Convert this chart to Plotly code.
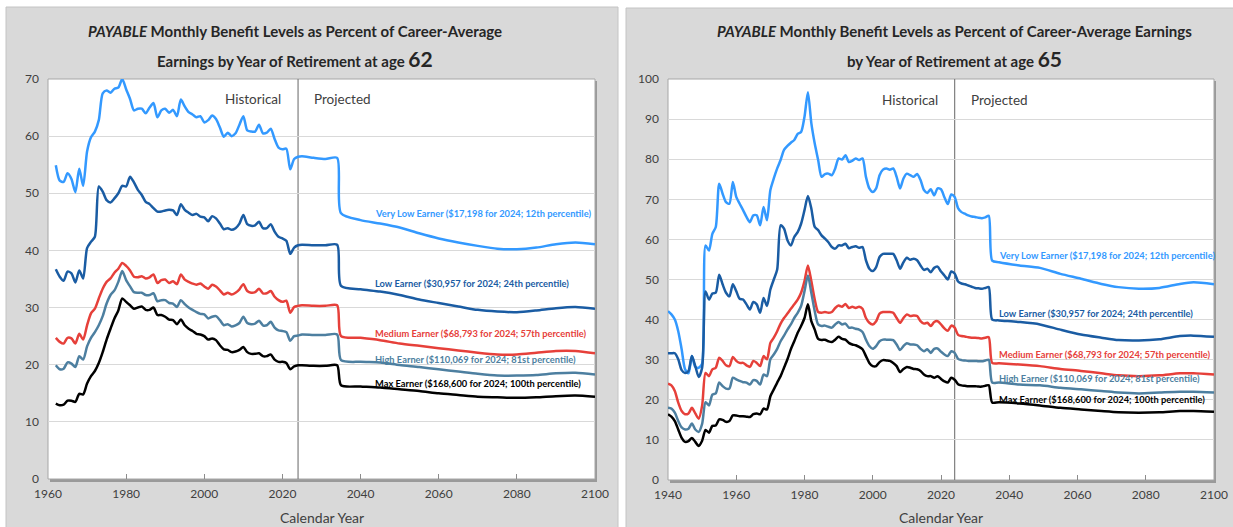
import plotly.graph_objects as go

W, H = 1233, 527

# ---------------- Age 62 data ----------------
years62 = list(range(1962, 2025)) + [2025, 2028, 2031, 2034, 2035, 2040, 2045, 2050, 2055,
                                     2060, 2065, 2070, 2075, 2080, 2085, 2090, 2095, 2100]

very_low_62 = [54.9, 52.2, 52.0, 53.5, 52.5, 50.2, 54.3, 51.3, 57.3, 59.8,
               60.8, 62.8, 67.5, 68.0, 67.6, 68.3, 68.5, 70.0, 68.2, 66.5,
               64.5, 64.8, 64.8, 64.0, 65.0, 65.8, 63.3, 64.5, 64.8, 64.1,
               64.6, 63.5, 66.4, 65.2, 64.2, 63.8, 63.3, 63.5, 62.4, 62.8,
               63.6, 63.0, 61.5, 59.9, 60.6, 60.0, 60.5, 62.0, 63.5, 61.0,
               60.8, 60.8, 62.0, 60.5, 60.6, 61.3, 59.5, 58.0, 57.7, 57.8,
               54.2, 56.0, 56.4,
               56.5, 56.2, 56.0, 56.2, 46.5, 45.3, 44.7, 44.0, 43.0,
               42.1, 41.4, 40.8, 40.3, 40.2, 40.5, 41.1, 41.4, 41.1]
low_62 = [36.7, 35.4, 34.7, 36.3, 36.0, 34.4, 36.5, 35.1, 40.4, 41.5,
          42.4, 51.2, 50.3, 48.8, 48.4, 49.1, 50.0, 51.3, 51.2, 52.9,
          51.9, 50.6, 49.7, 48.5, 48.1, 47.4, 46.8, 46.8, 47.0, 47.1,
          47.0, 46.2, 48.1, 47.1, 46.6, 46.2, 46.4, 45.9, 45.8, 45.1,
          46.0, 45.6, 44.7, 43.7, 43.9, 43.6, 43.9, 44.7, 46.2, 44.6,
          44.3, 44.4, 45.0, 43.9, 43.9, 44.6, 43.3, 42.4, 42.1, 41.7,
          39.4, 40.5, 40.9,
          41.0, 40.9, 40.9, 41.0, 33.8, 33.2, 32.8, 32.2, 31.4,
          30.8, 30.2, 29.6, 29.3, 29.2, 29.5, 29.9, 30.1, 29.8]
medium_62 = [24.7, 24.0, 23.7, 24.7, 24.6, 23.7, 25.4, 24.4, 26.9, 29.0,
             29.8, 31.6, 33.3, 34.5, 35.1, 36.1, 36.8, 37.8, 37.3, 36.5,
             35.4, 35.3, 35.5, 35.1, 35.3, 35.8, 34.3, 34.8, 34.9, 34.3,
             34.6, 34.1, 35.8, 34.9, 34.5, 34.2, 34.0, 34.2, 33.7, 33.3,
             34.0, 33.7, 33.0, 32.3, 32.6, 32.3, 32.6, 33.2, 34.1, 32.9,
             32.6, 32.7, 33.3, 32.5, 32.5, 32.9, 31.9, 31.3, 31.0, 31.2,
             29.1, 30.1, 30.3,
             30.4, 30.3, 30.3, 30.4, 25.0, 24.7, 24.3, 23.7, 23.3,
             22.9, 22.5, 22.1, 21.8, 21.8, 22.1, 22.4, 22.4, 22.0]
high_62 = [19.9, 19.2, 19.3, 20.4, 20.2, 19.6, 21.5, 20.9, 23.2, 24.7,
           25.7, 26.9, 28.5, 30.7, 32.2, 33.0, 34.5, 36.4, 34.8, 33.7,
           32.7, 32.6, 32.6, 32.2, 32.2, 32.5, 31.1, 31.3, 31.3, 30.8,
           30.7, 30.1, 31.3, 30.6, 30.0, 29.6, 29.2, 28.9, 28.8, 28.1,
           28.4, 28.5, 27.8, 26.9, 27.1, 26.7, 26.9, 27.3, 28.4, 27.3,
           27.1, 27.2, 27.7, 26.9, 26.9, 27.5, 26.5, 26.0, 25.9, 25.7,
           24.2, 25.0, 25.1,
           25.3, 25.2, 25.2, 25.3, 20.8, 20.5, 20.4, 19.95, 19.6,
           19.2, 18.8, 18.4, 18.1, 18.1, 18.2, 18.5, 18.6, 18.3]
max_62 = [13.2, 12.9, 13.0, 13.7, 13.7, 13.5, 14.9, 14.8, 16.7, 18.0,
          18.9, 20.3, 22.2, 24.4, 26.3, 28.1, 29.5, 31.6, 31.0, 30.4,
          29.8, 30.0, 30.2, 29.6, 29.6, 30.0, 28.7, 28.7, 28.4, 27.9,
          27.8, 27.1, 27.9, 26.9, 26.3, 25.9, 25.4, 25.3, 25.0, 24.4,
          24.6, 24.3, 23.4, 22.7, 22.6, 22.2, 22.3, 22.6, 23.1, 22.2,
          21.9, 21.9, 22.0, 21.5, 21.5, 21.8, 20.9, 20.5, 20.5, 20.3,
          19.2, 19.7, 19.9,
          19.9, 19.8, 19.8, 19.9, 16.4, 16.2, 16.0, 15.7, 15.4,
          15.0, 14.7, 14.4, 14.3, 14.2, 14.3, 14.5, 14.6, 14.4]

# ---------------- Age 65 data ----------------
years65 = list(range(1940, 2036)) + [2037, 2043, 2049, 2055, 2061, 2067, 2072, 2078, 2084, 2090, 2094, 2100]

very_low_65 = [42.1, 41.3, 40.0, 37.1, 32.6, 27.6, 26.6, 30.9, 28.2, 28.0,
               29.0, 58.5, 57.2, 61.4, 63.1, 73.9, 71.4, 69.3, 68.9, 74.3,
               70.6, 68.9, 67.3, 65.6, 64.3, 66.0, 66.0, 63.5, 68.1, 64.8,
               72.3, 75.2, 77.7, 79.8, 82.3, 83.3, 84.1, 84.8, 86.3, 86.8,
               90.6, 96.7, 89.0, 83.9, 79.8, 75.6, 76.3, 76.4, 76.0, 77.7,
               80.2, 79.9, 81.0, 79.3, 79.6, 80.2, 79.8, 80.2, 75.6, 72.7,
               71.8, 72.7, 76.0, 77.4, 77.7, 77.4, 77.7, 75.6, 72.7, 75.2,
               76.4, 76.0, 75.6, 76.3, 74.8, 72.3, 71.6, 72.5, 71.0, 72.7,
               72.5, 70.5, 68.8, 71.2, 70.6, 67.8, 66.8, 66.4, 66.0, 65.7,
               65.6, 65.4, 65.3, 65.5, 65.9, 54.7,
               54.3, 53.5, 52.9, 51.4, 50.2, 48.9, 48.1, 47.7, 47.9, 48.9, 49.3, 48.8]
low_65 = [31.6, 31.6, 31.6, 30.1, 27.4, 26.7, 27.2, 30.9, 28.4, 25.7,
          28.0, 47.0, 45.0, 46.5, 46.7, 51.2, 48.8, 46.7, 45.8, 48.8,
          47.1, 45.2, 45.0, 43.8, 42.5, 44.4, 43.8, 41.7, 45.4, 43.4,
          47.5, 50.0, 52.5, 63.5, 62.7, 59.8, 58.5, 60.6, 61.8, 63.9,
          67.3, 70.8, 67.7, 63.1, 62.3, 61.0, 60.2, 59.3, 58.1, 57.7,
          58.5, 58.5, 58.9, 57.8, 58.1, 58.3, 57.9, 58.1, 54.8, 52.7,
          52.1, 53.1, 55.6, 56.4, 56.4, 56.4, 56.4, 54.8, 52.7, 54.3,
          55.4, 54.9, 55.2, 54.8, 53.5, 52.4, 52.7, 51.8, 52.9, 53.2,
          52.0, 51.0, 50.0, 52.0, 51.5, 49.5, 49.0, 48.8, 48.5, 48.2,
          47.9, 47.8, 47.7, 47.9, 48.1, 40.0,
          39.8, 39.4, 38.8, 37.5, 36.3, 35.5, 34.9, 34.8, 35.1, 35.9, 36.0, 35.7]
medium_65 = [24.0, 23.6, 22.2, 19.3, 17.2, 16.4, 16.6, 18.0, 16.6, 15.3,
             18.5, 26.7, 25.9, 27.6, 28.0, 30.5, 29.7, 28.6, 28.4, 30.7,
             29.7, 29.2, 29.2, 28.6, 28.2, 29.7, 29.2, 28.4, 30.9, 30.1,
             34.2, 35.5, 37.1, 39.0, 40.4, 41.5, 42.7, 43.8, 45.0, 46.7,
             49.6, 53.5, 49.6, 45.0, 41.9, 41.7, 41.9, 41.7, 41.9, 42.9,
             43.5, 43.2, 43.9, 42.9, 43.2, 42.9, 43.2, 42.7, 40.4, 39.2,
             38.8, 39.6, 41.5, 41.9, 41.9, 41.9, 41.7, 40.4, 39.2, 40.4,
             41.3, 40.9, 41.0, 40.9, 39.6, 39.0, 39.2, 38.4, 39.4, 39.6,
             38.8, 37.8, 37.2, 38.5, 38.0, 36.2, 35.9, 35.8, 35.6, 35.5,
             35.5, 35.4, 35.3, 35.5, 35.6, 29.2,
             29.1, 28.8, 28.4, 27.7, 27.2, 26.6, 26.1, 25.9, 26.1, 26.6, 26.6, 26.3]
high_65 = [18.0, 17.8, 16.8, 14.7, 13.1, 12.6, 12.8, 14.1, 12.6, 12.0,
           14.0, 19.4, 18.6, 21.3, 21.6, 24.3, 23.4, 22.8, 22.8, 25.5,
           25.1, 24.7, 24.4, 24.3, 23.8, 24.9, 24.7, 23.8, 26.3, 25.9,
           30.1, 31.3, 32.7, 34.6, 36.0, 37.5, 38.8, 40.4, 41.7, 43.4,
           47.1, 51.0, 46.7, 42.1, 38.8, 38.4, 38.5, 38.2, 38.0, 38.8,
           39.4, 38.8, 39.0, 38.0, 38.0, 37.7, 37.5, 36.9, 35.0, 33.4,
           32.7, 33.4, 34.6, 35.0, 35.0, 35.0, 34.9, 33.8, 32.4, 33.4,
           34.1, 33.8, 33.8, 33.6, 32.7, 32.1, 32.6, 31.7, 32.7, 32.8,
           32.0, 31.3, 30.9, 32.1, 31.7, 30.2, 29.9, 29.8, 29.7, 29.7,
           29.7, 29.6, 29.6, 29.8, 30.0, 24.3,
           24.3, 23.8, 23.6, 23.0, 22.6, 22.2, 21.8, 21.6, 21.8, 22.0, 22.0, 21.8]
max_65 = [16.4, 15.8, 14.7, 12.6, 10.5, 9.5, 9.7, 10.5, 9.5, 8.5,
          9.8, 12.5, 11.8, 13.5, 13.6, 15.1, 15.0, 14.5, 14.7, 16.1,
          16.1, 15.9, 15.9, 15.8, 15.7, 16.4, 16.6, 16.4, 17.8, 17.6,
          20.9, 22.6, 24.3, 25.9, 28.0, 30.1, 32.6, 34.6, 36.7, 38.4,
          40.4, 43.8, 39.6, 37.5, 35.2, 34.9, 35.0, 34.6, 34.4, 35.0,
          35.7, 35.2, 35.0, 34.2, 33.8, 33.6, 33.2, 32.6, 30.9, 29.2,
          28.4, 28.4, 29.4, 29.9, 29.8, 29.7, 29.2, 28.4, 26.9, 27.7,
          28.2, 28.0, 27.7, 27.6, 27.2, 26.3, 25.9, 25.9, 25.5, 25.9,
          25.2, 24.6, 24.3, 25.5, 25.0, 23.9, 23.6, 23.5, 23.4, 23.4,
          23.4, 23.3, 23.3, 23.5, 23.6, 19.3,
          19.4, 19.1, 18.6, 18.0, 17.6, 17.2, 16.9, 16.8, 16.9, 17.2, 17.2, 17.0]

series_names = ["Very Low Earner ($17,198 for 2024; 12th percentile)",
                "Low Earner ($30,957 for 2024; 24th percentile)",
                "Medium Earner ($68,793 for 2024; 57th percentile)",
                "High Earner ($110,069 for 2024; 81st percentile)",
                "Max Earner ($168,600 for 2024; 100th percentile)"]
colors = ["#3399ff", "#1a5ca3", "#e6403a", "#4d7fa0", "#000000"]

# label anchor positions (data coords)
label_x62 = 2043.2
label_y62 = [46.4, 34.3, 25.55, 21.0, 16.8]
label_x65 = 2036.4
label_y65 = [56.1, 41.4, 31.4, 25.2, 20.2]

x_ticks62 = [1960, 1980, 2000, 2020, 2040, 2060, 2080, 2100]
x_ticks65 = [1940, 1960, 1980, 2000, 2020, 2040, 2060, 2080, 2100]

FONT = "Lato, 'Open Sans', sans-serif"
TXT = "#404040"

fig = go.Figure()

data62 = [very_low_62, low_62, medium_62, high_62, max_62]
data65 = [very_low_65, low_65, medium_65, high_65, max_65]

for name, col, ys in zip(series_names, colors, data62):
    fig.add_trace(go.Scatter(x=years62, y=ys, mode="lines", name=name,
                             line=dict(color=col, width=2.5, shape="spline", smoothing=0.7),
                             xaxis="x", yaxis="y", showlegend=False, hoverinfo="skip"))
for name, col, ys in zip(series_names, colors, data65):
    fig.add_trace(go.Scatter(x=years65, y=ys, mode="lines", name=name,
                             line=dict(color=col, width=2.5, shape="spline", smoothing=0.7),
                             xaxis="x2", yaxis="y2", showlegend=False, hoverinfo="skip"))


def px(v):
    return v / W


def py(v):
    return 1 - v / H


L = dict(l=48, r=595, t=79, b=479)
R = dict(l=668, r=1214, t=79, b=480)

axis_common = dict(showline=False, zeroline=False, automargin=False,
                   tickfont=dict(family=FONT, size=12, color=TXT))
fig.update_layout(
    width=W, height=H, autosize=False,
    margin=dict(l=0, r=0, t=0, b=0, pad=0, autoexpand=False),
    showlegend=False,
    paper_bgcolor="white", plot_bgcolor="rgba(0,0,0,0)",
    font=dict(family=FONT, color=TXT),
    xaxis=dict(domain=[px(L["l"]), px(L["r"])], range=[1960, 2100], tickvals=x_ticks62,
               showgrid=False, ticks="inside", ticklen=5, tickcolor="#8c8c8c", anchor="y",
               ticklabelstandoff=6, **axis_common),
    yaxis=dict(domain=[py(L["b"]), py(L["t"])], range=[0, 70], dtick=10, showgrid=True,
               gridcolor="#d9d9d9", gridwidth=1, ticks="", anchor="x", ticklabelstandoff=8,
               **axis_common),
    xaxis2=dict(domain=[px(R["l"]), px(R["r"])], range=[1940, 2100], tickvals=x_ticks65,
                showgrid=False, ticks="inside", ticklen=5, tickcolor="#8c8c8c", anchor="y2",
                ticklabelstandoff=6, **axis_common),
    yaxis2=dict(domain=[py(R["b"]), py(R["t"])], range=[0, 100], dtick=10, showgrid=True,
                gridcolor="#d9d9d9", gridwidth=1, ticks="", anchor="x2", ticklabelstandoff=8,
                **axis_common),
)

shapes = []
# gray panels
shapes.append(dict(type="rect", xref="paper", yref="paper", x0=px(6), x1=px(618), y0=-0.02, y1=py(7),
                   fillcolor="#d9d9d9", line=dict(color="#c4c4c4", width=1), layer="below"))
shapes.append(dict(type="rect", xref="paper", yref="paper", x0=px(626), x1=1.02, y0=-0.02, y1=py(8),
                   fillcolor="#d9d9d9", line=dict(color="#c4c4c4", width=1), layer="below"))
# plot area shadows and white plot areas
for P in (L, R):
    shapes.append(dict(type="rect", xref="paper", yref="paper", x0=px(P["l"] + 2), x1=px(P["r"] + 2),
                       y0=py(P["b"] + 3), y1=py(P["t"] + 2), fillcolor="#9a9a9a",
                       line=dict(width=0), layer="below"))
    shapes.append(dict(type="rect", xref="paper", yref="paper", x0=px(P["l"]), x1=px(P["r"]),
                       y0=py(P["b"]), y1=py(P["t"]), fillcolor="white",
                       line=dict(color="#a6a6a6", width=1), layer="below"))
# historical / projected divider
shapes.append(dict(type="line", xref="x", yref="y domain", x0=2024, x1=2024, y0=0, y1=1,
                   line=dict(color="#7f7f7f", width=1.2), layer="below"))
shapes.append(dict(type="line", xref="x2", yref="y2 domain", x0=2024, x1=2024, y0=0, y1=1,
                   line=dict(color="#7f7f7f", width=1.2), layer="below"))
fig.update_layout(shapes=shapes)

ann = []
TITLE_C = "#262626"
TSIZE = 15
ann.append(dict(xref="paper", yref="paper", x=px(295), y=py(31), xanchor="center", yanchor="middle",
                showarrow=False, font=dict(family=FONT, size=TSIZE, color=TITLE_C),
                text="<b><i>PAYABLE</i> Monthly Benefit Levels as Percent of Career-Average</b>"))
ann.append(dict(xref="paper", yref="paper", x=px(295), y=py(59), xanchor="center", yanchor="middle",
                showarrow=False, font=dict(family=FONT, size=TSIZE, color=TITLE_C),
                text="<b>Earnings by Year of Retirement at age <span style='font-size:21px'>62</span></b>"))
ann.append(dict(xref="paper", yref="paper", x=px(954), y=py(31), xanchor="center", yanchor="middle",
                showarrow=False, font=dict(family=FONT, size=TSIZE, color=TITLE_C),
                text="<b><i>PAYABLE</i> Monthly Benefit Levels as Percent of Career-Average Earnings</b>"))
ann.append(dict(xref="paper", yref="paper", x=px(954), y=py(59), xanchor="center", yanchor="middle",
                showarrow=False, font=dict(family=FONT, size=TSIZE, color=TITLE_C),
                text="<b>by Year of Retirement at age <span style='font-size:21px'>65</span></b>"))

# Historical / Projected
for xr, yr, yv in (("x", "y", 66.5), ("x2", "y2", 94.8)):
    ann.append(dict(xref=xr, yref=yr, x=2024, y=yv, xanchor="right", yanchor="middle", xshift=-15,
                    showarrow=False, text="Historical", font=dict(family=FONT, size=13.5, color=TXT)))
    ann.append(dict(xref=xr, yref=yr, x=2024, y=yv, xanchor="left", yanchor="middle", xshift=14,
                    showarrow=False, text="Projected", font=dict(family=FONT, size=13.5, color=TXT)))

# series labels
for name, col, ly in zip(series_names, colors, label_y62):
    ann.append(dict(xref="x", yref="y", x=label_x62, y=ly, xanchor="left", yanchor="middle",
                    showarrow=False, text="<b>" + name + "</b>",
                    font=dict(family=FONT, size=9.3, color=col)))
for name, col, ly in zip(series_names, colors, label_y65):
    ann.append(dict(xref="x2", yref="y2", x=label_x65, y=ly, xanchor="left", yanchor="middle",
                    showarrow=False, text="<b>" + name + "</b>",
                    font=dict(family=FONT, size=9.3, color=col)))

# axis titles
for P in (L, R):
    ann.append(dict(xref="paper", yref="paper", x=px((P["l"] + P["r"]) / 2), y=py(517),
                    xanchor="center", yanchor="middle", showarrow=False, text="Calendar Year",
                    font=dict(family=FONT, size=14, color=TXT)))

fig.update_layout(annotations=ann)
fig.write_html("out.html", config={"responsive": False, "displayModeBar": False},
               post_script="document.body.style.margin='0px';document.body.style.overflow='hidden';")
